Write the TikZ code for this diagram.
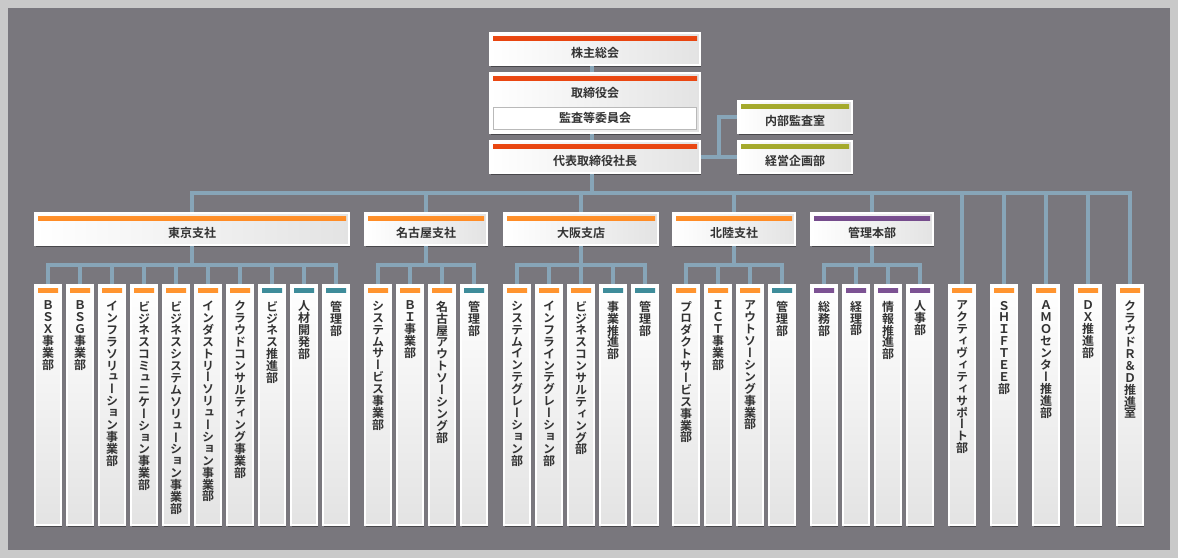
\documentclass[tikz,border=0pt]{standalone}
\usepackage{fontspec}
\usepackage{tikz}
\usetikzlibrary{shadows,trees}
\setmainfont{Noto Sans CJK JP Bold}
\newfontfamily\tatefont{Noto Sans CJK JP Bold}[RawFeature=+vert]

\definecolor{frame}{HTML}{C9C9C9}
\definecolor{board}{HTML}{79777D}
\definecolor{wire}{HTML}{87A5B8}
\definecolor{ink}{HTML}{333333}
\definecolor{boxlo}{HTML}{E3E3E3}
\definecolor{barRedHi}{HTML}{EC4A14}
\definecolor{barRedLo}{HTML}{D93200}
\definecolor{barOliveHi}{HTML}{A9AE2E}
\definecolor{barOliveLo}{HTML}{8C921E}
\definecolor{barOrangeHi}{HTML}{FF9530}
\definecolor{barOrangeLo}{HTML}{FF6C00}
\definecolor{barTealHi}{HTML}{3F8D9B}
\definecolor{barTealLo}{HTML}{216A76}
\definecolor{barPurpleHi}{HTML}{7D5394}
\definecolor{barPurpleLo}{HTML}{5A3470}

% stack the characters one under another
\def\tatenext#1{\ifx\relax#1\else\hbox to 12pt{\hss#1\hss}\expandafter\tatenext\fi}
\newcommand\tate[1]{\vbox to 240pt{\tatefont\fontsize{12}{11.9}\selectfont
	\lineskiplimit=-20pt\vskip16pt\tatenext#1\relax\vss}}

\begin{document}
\begin{tikzpicture}[x=1pt,y=-1pt,
		wire/.style={draw=wire,line width=3.6pt},
		box/.style={rectangle,draw=white,line width=2pt,inner sep=0pt,
			left color=white,right color=boxlo,text=ink,
			font=\fontsize{12}{14}\selectfont,
			drop shadow={shadow xshift=1pt,shadow yshift=-1.5pt,opacity=.4,fill=black},
			path picture={\shade[top color=bar#1Hi,bottom color=bar#1Lo]
				([xshift=3pt,yshift=-3pt]path picture bounding box.north west) rectangle
				([xshift=-3pt,yshift=-7.5pt]path picture bounding box.north east);}},
		head/.style={box=#1,text height=24.8pt,text depth=7.2pt},
		dept/.style={box=#1,top color=white,bottom color=boxlo,
			minimum width=26pt,minimum height=240pt},
		level distance=176pt,
		sibling distance=32pt,
		edge from parent/.style={wire},
		edge from parent path={(\tikzparentnode.south) -- +(0pt,-19pt) -| (\tikzchildnode.north)}]
	\fill[frame] (0,0) rectangle (1178,558);
	\fill[board] (8,8) rectangle (1170,550);
	
	% top
	\node[head=Red,minimum width=210pt] (kabu) at (595,49) {株主総会};
	\node[box=Red,minimum width=210pt,text height=24.8pt,text depth=35.2pt] (torishimari) at (595,103) {取締役会};
	\node[draw=gray!55,fill=white,line width=1pt,minimum width=203pt,minimum height=22pt,
		inner sep=0pt,text=ink,font=\fontsize{12}{14}\selectfont] (kansa) at (595,118) {監査等委員会};
	\node[head=Red,minimum width=210pt] (daihyo) at (595,157) {代表取締役社長};
	\node[head=Olive,minimum width=114pt] (naibu) at (795,117) {内部監査室};
	\node[head=Olive,minimum width=114pt] (keiei) at (795,157) {経営企画部};
	\coordinate (spine) at (592,193);
	\coordinate (elbow) at (719,157);
	
	% branches
	\node[head=Orange,minimum width=314pt] (tokyo) at (192,229) {東京支社}
		child{node[dept=Orange] (tk1) {\tate{ＢＳＸ事業部}}}
		child{node[dept=Orange] (tk2) {\tate{ＢＳＧ事業部}}}
		child{node[dept=Orange] (tk3) {\tate{インフラソリューション事業部}}}
		child{node[dept=Orange] (tk4) {\tate{ビジネスコミュニケーション事業部}}}
		child{node[dept=Orange] (tk5) {\tate{ビジネスシステムソリューション事業部}}}
		child{node[dept=Orange] (tk6) {\tate{インダストリーソリューション事業部}}}
		child{node[dept=Orange] (tk7) {\tate{クラウドコンサルティング事業部}}}
		child{node[dept=Teal] (tk8) {\tate{ビジネス推進部}}}
		child{node[dept=Teal] (tk9) {\tate{人材開発部}}}
		child{node[dept=Teal] (tk10) {\tate{管理部}}};
	\node[head=Orange,minimum width=122pt] (nagoya) at (426,229) {名古屋支社}
		child{node[dept=Orange] (ng1) {\tate{システムサービス事業部}}}
		child{node[dept=Orange] (ng2) {\tate{ＢＩ事業部}}}
		child{node[dept=Orange] (ng3) {\tate{名古屋アウトソーシング部}}}
		child{node[dept=Teal] (ng4) {\tate{管理部}}};
	\node[head=Orange,minimum width=154pt] (osaka) at (581,229) {大阪支店}
		child{node[dept=Orange] (os1) {\tate{システムインテグレーション部}}}
		child{node[dept=Orange] (os2) {\tate{インフラインテグレーション部}}}
		child{node[dept=Orange] (os3) {\tate{ビジネスコンサルティング部}}}
		child{node[dept=Teal] (os4) {\tate{事業推進部}}}
		child{node[dept=Teal] (os5) {\tate{管理部}}};
	\node[head=Orange,minimum width=122pt] (hokuriku) at (734,229) {北陸支社}
		child{node[dept=Orange] (hk1) {\tate{プロダクトサービス事業部}}}
		child{node[dept=Orange] (hk2) {\tate{ＩＣＴ事業部}}}
		child{node[dept=Orange] (hk3) {\tate{アウトソーシング事業部}}}
		child{node[dept=Teal] (hk4) {\tate{管理部}}};
	\node[head=Purple,minimum width=122pt] (kanri) at (872,229) {管理本部}
		child{node[dept=Purple] (kr1) {\tate{総務部}}}
		child{node[dept=Purple] (kr2) {\tate{経理部}}}
		child{node[dept=Purple] (kr3) {\tate{情報推進部}}}
		child{node[dept=Purple] (kr4) {\tate{人事部}}};
	
	% directly under the president
	\node[dept=Orange] (act) at (962,405) {\tate{アクティヴィティサポート部}};
	\node[dept=Orange] (shiftee) at (1004,405) {\tate{ＳＨＩＦＴＥＥ部}};
	\node[dept=Orange] (amo) at (1046,405) {\tate{ＡＭＯセンター推進部}};
	\node[dept=Orange] (dx) at (1088,405) {\tate{ＤＸ推進部}};
	\node[dept=Orange] (rnd) at (1130,405) {\tate{クラウドＲ＆Ｄ推進室}};
	
	\draw[wire] (kabu.south -| spine) -- (torishimari.north -| spine);
	\draw[wire] (torishimari.south -| spine) -- (daihyo.north -| spine);
	\draw[wire] (daihyo.south -| spine) -- (spine);
	\draw[wire] (daihyo.east) -- (keiei.west);
	\draw[wire] (naibu.west) -| (elbow);
	\draw[wire] (spine) -| (tokyo.north);
	\draw[wire] (spine) -| (nagoya.north);
	\draw[wire] (spine) -| (osaka.north);
	\draw[wire] (spine) -| (hokuriku.north);
	\draw[wire] (spine) -| (kanri.north);
	\draw[wire] (spine) -| (act.north);
	\draw[wire] (spine) -| (shiftee.north);
	\draw[wire] (spine) -| (amo.north);
	\draw[wire] (spine) -| (dx.north);
	\draw[wire] (spine) -| (rnd.north);
\end{tikzpicture}
\end{document}
